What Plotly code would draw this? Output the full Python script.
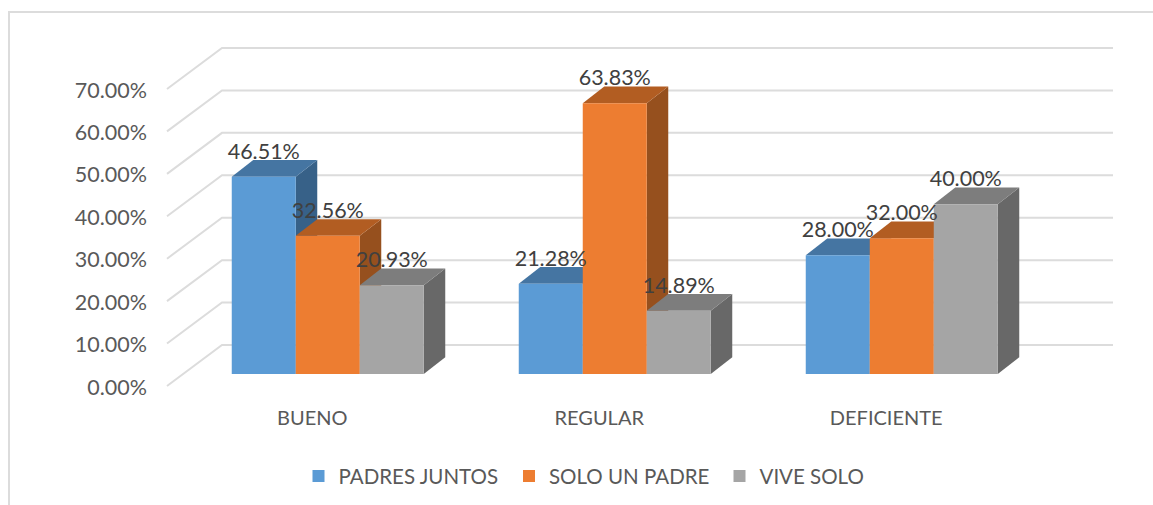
import plotly.graph_objects as go

categories = ['BUENO', 'REGULAR', 'DEFICIENTE']
padres_juntos = [46.51, 21.28, 28.00]
solo_un_padre = [32.56, 63.83, 32.00]
vive_solo = [20.93, 14.89, 40.00]
y_ticks = [0, 10, 20, 30, 40, 50, 60, 70]

series = [
    # name, values, front colour, top colour, side colour
    ('PADRES JUNTOS', padres_juntos, '#5B9BD5', '#4575A2', '#376188'),
    ('SOLO UN PADRE', solo_un_padre, '#ED7D31', '#B25D22', '#96501E'),
    ('VIVE SOLO', vive_solo, '#A5A5A5', '#7D7D7D', '#686868'),
]

# figure geometry in pixels
WIDTH, HEIGHT = 1153, 505
PLOT_L, PLOT_T, PLOT_B = 148, 20, 400
PX_PER_CAT = 287
PX_PER_PCT = 4.243
FIRST_CAT_PX = 327.75
ZERO_PX = 386


def cat_x(px):
    return (px - FIRST_CAT_PX) / PX_PER_CAT


def pct_y(px):
    return (ZERO_PX - px) / PX_PER_PCT


x_range = [cat_x(PLOT_L), cat_x(WIDTH)]
y_range = [pct_y(PLOT_B), pct_y(PLOT_T)]

# fake 3D: everything is offset up and to the right for depth
group_width = 192 / PX_PER_CAT
bar_width = group_width / 3
bar_dx = 21.5 / PX_PER_CAT
bar_dy = 16.7 / PX_PER_PCT
floor_base = 12 / PX_PER_PCT
wall_dx = 55 / PX_PER_CAT
wall_dy = 41 / PX_PER_PCT
wall_left = cat_x(167)
wall_right = cat_x(1113)

fig = go.Figure()

# Back wall gridlines
grid_x, grid_y = [], []
for t in y_ticks:
    grid_x += [wall_left, wall_left + wall_dx, wall_right, None]
    grid_y += [t, t + wall_dy, t + wall_dy, None]
fig.add_trace(go.Scatter(x=grid_x, y=grid_y, mode='lines', showlegend=False,
                         hoverinfo='skip', line=dict(color='#DCDCDC', width=2)))

# Top and side faces, left to right so that later bars cover earlier ones
for c in range(len(categories)):
    for s, (name, values, front, top, side) in enumerate(series):
        left = c - group_width / 2 + s * bar_width
        right = left + bar_width
        y_top = floor_base + values[c]
        fig.add_trace(go.Scatter(
            x=[right, right + bar_dx, right + bar_dx, right, right],
            y=[floor_base, floor_base + bar_dy, y_top + bar_dy, y_top, floor_base],
            mode='lines', fill='toself', fillcolor=side, line=dict(width=0),
            showlegend=False, hoverinfo='skip'))
        fig.add_trace(go.Scatter(
            x=[left, right, right + bar_dx, left + bar_dx, left],
            y=[y_top, y_top, y_top + bar_dy, y_top + bar_dy, y_top],
            mode='lines', fill='toself', fillcolor=top, line=dict(width=0),
            showlegend=False, hoverinfo='skip'))

# Front faces on an overlay axis so they sit above the side faces
for name, values, front, top, side in series:
    fig.add_trace(go.Bar(x=list(range(len(categories))), y=values, base=floor_base,
                         name=name, marker=dict(color=front, line=dict(width=0)),
                         xaxis='x2', yaxis='y2'))

# Data labels
label_lift = 23.5 / PX_PER_PCT
for s, (name, values, front, top, side) in enumerate(series):
    fig.add_trace(go.Scatter(
        x=[c + (s - 1) * bar_width for c in range(len(categories))],
        y=[floor_base + v + label_lift for v in values],
        text=[f'{v:.2f}%' for v in values],
        mode='text', textposition='middle center', showlegend=False, hoverinfo='skip',
        textfont=dict(family='Lato', size=21.5, color='#404040'),
        xaxis='x2', yaxis='y2'))

fig.update_layout(
    width=WIDTH, height=HEIGHT,
    margin=dict(l=PLOT_L, r=0, t=PLOT_T, b=HEIGHT - PLOT_B, pad=0),
    paper_bgcolor='white', plot_bgcolor='white',
    barmode='group', bargap=1 - group_width, bargroupgap=0,
    font=dict(family='Lato', size=20, color='#595959'),
    xaxis=dict(range=x_range, showgrid=False, zeroline=False, showline=False, ticks='',
               tickvals=[c - 0.054 for c in range(len(categories))], ticktext=categories,
               ticklabelstandoff=4),
    yaxis=dict(range=y_range, showgrid=False, zeroline=False, showline=False, ticks='',
               tickvals=y_ticks, ticktext=[f'{t:.2f}%' for t in y_ticks],
               tickfont=dict(size=21.5), ticklabelshift=1),
    xaxis2=dict(overlaying='x', matches='x', visible=False),
    yaxis2=dict(overlaying='y', matches='y', visible=False),
    legend=dict(orientation='h', x=(298.5 - PLOT_L) / (WIDTH - PLOT_L), xanchor='left',
                y=-0.148, yanchor='top', entrywidth=165.5, entrywidthmode='pixels',
                font=dict(size=20.5, color='#595959')),
    shapes=[dict(type='path', xref='paper', yref='paper',
                 path='M {:.5f},{:.5f} L {:.5f},{:.5f} L 1,{:.5f}'.format(
                     (9 - PLOT_L) / (WIDTH - PLOT_L), (PLOT_B - HEIGHT) / (PLOT_B - PLOT_T),
                     (9 - PLOT_L) / (WIDTH - PLOT_L), (PLOT_B - 12) / (PLOT_B - PLOT_T),
                     (PLOT_B - 12) / (PLOT_B - PLOT_T)),
                 line=dict(color='#DCDCDC', width=2))],
)

# plotly's page keeps the default body margin, drop it so pixels line up
fig.write_html("out.html", post_script="document.body.style.margin='0';",
               config={'displayModeBar': False})
